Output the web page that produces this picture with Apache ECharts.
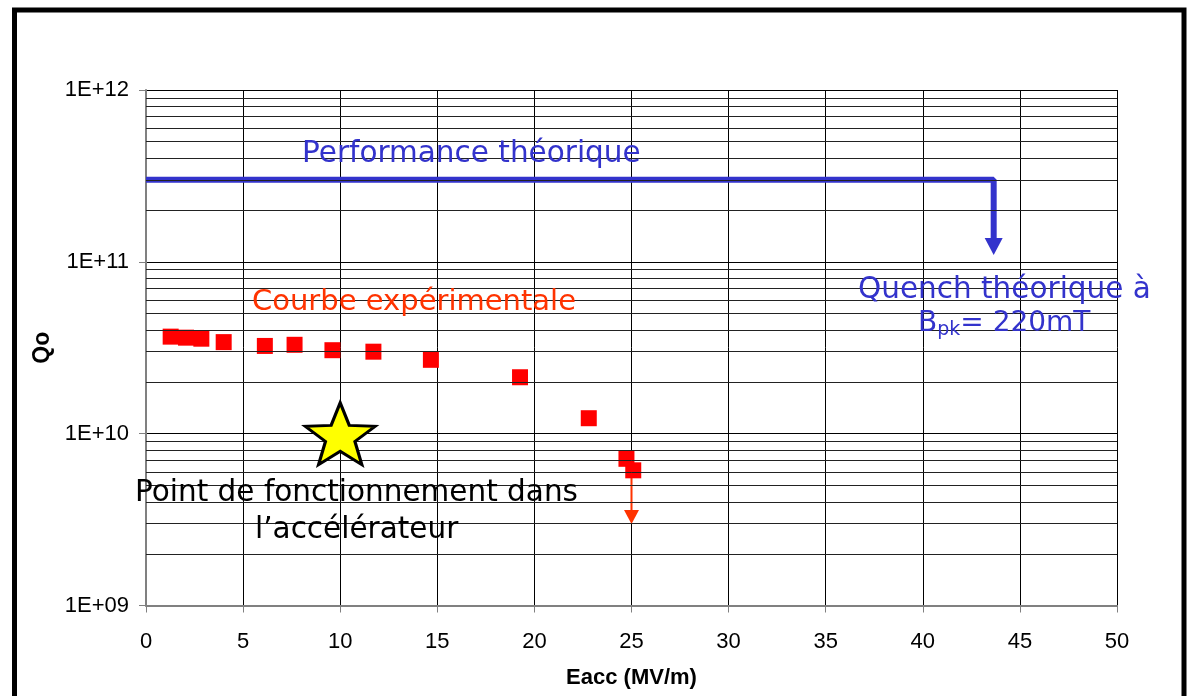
<!DOCTYPE html>
<html>
<head>
<meta charset="UTF-8">
<title>Qo vs Eacc</title>
<script src="https://cdn.jsdelivr.net/npm/echarts@6/dist/echarts.min.js"></script>
<style>
  html, body { margin: 0; padding: 0; background: #fff; }
  #main { width: 1188px; height: 696px; }
</style>
</head>
<body>
<div id="main"></div>
<script>
var eacc = [1.27, 2.06, 2.85, 4.0, 6.12, 7.65, 9.6, 11.71, 14.67, 19.26, 22.8, 24.74, 25.09];
var qo   = [3.67e10, 3.62e10, 3.57e10, 3.41e10, 3.24e10, 3.29e10, 3.06e10, 3.00e10, 2.69e10, 2.13e10, 1.23e10, 7.14e9, 6.12e9];

// performance theorique + quench
var theoX = [0, 43.65, 43.65];
var theoQ = [3e11, 3e11, 1.23e11];

// fleche sous le dernier point
var quenchX = [25, 25];
var quenchQ = [6.1e9, 3.27e9];

// point de fonctionnement
var opX = [10];
var opQ = [1e10];

// lignes de grille secondaires
var minorGrid = [2e9,3e9,4e9,5e9,6e9,7e9,8e9,9e9,
                 2e10,3e10,4e10,5e10,6e10,7e10,8e10,9e10,
                 2e11,3e11,4e11,5e11,6e11,7e11,8e11,9e11];

var starPath = 'path://M50 0 L62.3 33 L97.55 34.55 L70 56.5 L79.39 90.45 L50 71 L20.61 90.45 L30 56.5 L2.45 34.55 L37.7 33 Z';

function arrowData(xs, ys, color, size) {
  return xs.map(function (x, i) {
    var last = i === xs.length - 1;
    return {
      value: [x, ys[i]],
      symbol: last ? 'triangle' : 'none',
      symbolSize: size,
      symbolRotate: 180,
      itemStyle: { color: color }
    };
  });
}

var myChart = echarts.init(document.getElementById('main'));
var comic = 'DejaVu Sans';

var option = {
  animation: false,
  backgroundColor: '#fff',
  grid: { left: 146, right: 71, top: 90, bottom: 90.5 },
  xAxis: {
    type: 'value',
    min: 0, max: 50, interval: 5,
    name: 'Eacc (MV/m)',
    nameLocation: 'middle',
    nameGap: 61,
    nameTextStyle: { fontFamily: 'Liberation Sans', fontSize: 22, fontWeight: 'bold', color: '#000' },
    axisLine: { lineStyle: { color: '#808080', width: 2 } },
    axisTick: { show: true, length: 7, lineStyle: { color: '#808080' } },
    axisLabel: { fontFamily: 'Liberation Sans', fontSize: 22, color: '#000', margin: 25 },
    splitLine: { show: true, lineStyle: { color: '#000', width: 1 } }
  },
  yAxis: {
    type: 'log',
    logBase: 10,
    min: 1e9, max: 1e12,
    name: 'Qo',
    nameLocation: 'middle',
    nameGap: 90,
    nameRotate: 90,
    nameTextStyle: { fontFamily: 'Liberation Sans', fontSize: 23, fontWeight: 'bold', color: '#000' },
    axisLine: { show: true, lineStyle: { color: '#808080', width: 2 } },
    axisTick: { show: true, length: 7, lineStyle: { color: '#808080' } },
    axisLabel: {
      fontFamily: 'Liberation Sans', fontSize: 22, color: '#000', margin: 17,
      formatter: function (v) {
        var e = Math.round(Math.log10(v));
        return '1E+' + (e < 10 ? '0' : '') + e;
      }
    },
    splitLine: { show: true, lineStyle: { color: '#000', width: 1 } }
  },
  series: [
    {
      type: 'line',
      data: [],
      z: 1,
      silent: true,
      markLine: {
        silent: true,
        symbol: 'none',
        label: { show: false },
        lineStyle: { type: 'solid', color: '#222', width: 1 },
        data: minorGrid.map(function (v) { return { yAxis: v }; })
      }
    },
    {
      type: 'line',
      z: 3,
      data: arrowData(theoX, theoQ, '#3333CC', [18, 17]),
      lineStyle: { color: '#3333CC', width: 6 },
      itemStyle: { color: '#3333CC' },
      showSymbol: true
    },
    {
      type: 'line',
      z: 3,
      data: arrowData(quenchX, quenchQ, '#FF3300', [15, 14]),
      lineStyle: { color: '#FF3300', width: 2 },
      itemStyle: { color: '#FF3300' },
      showSymbol: true
    },
    {
      type: 'scatter',
      z: 4,
      symbol: 'rect',
      symbolSize: 16,
      itemStyle: { color: '#FF0000', opacity: 1 },
      data: eacc.map(function (x, i) { return [x, qo[i]]; })
    },
    {
      type: 'scatter',
      z: 5,
      symbol: starPath,
      symbolSize: [70, 62],
      itemStyle: { color: '#FFFF00', borderColor: '#000', borderWidth: 3, opacity: 1 },
      data: opX.map(function (x, i) { return [x, opQ[i]]; })
    }
  ],
  graphic: [
    {
      type: 'polyline', z: 100,
      shape: { points: [[14.5, 700], [14.5, 10], [1184, 10], [1184, 700]] },
      style: { stroke: '#000', lineWidth: 5, fill: null }
    },
    {
      type: 'text', left: 302, top: 139, z: 50,
      style: { text: 'Performance théorique', fill: '#3333CC', font: '29.5px "' + comic + '"' }
    },
    {
      type: 'text', left: 252, top: 288, z: 50,
      style: { text: 'Courbe expérimentale', fill: '#FF3300', font: '29px "' + comic + '"' }
    },
    {
      type: 'text', left: 858, top: 275, z: 50,
      style: { text: 'Quench théorique à', fill: '#3333CC', font: '29.5px "' + comic + '"' }
    },
    {
      type: 'text', left: 918, top: 310, z: 50,
      style: {
        text: '{n|B}{s|pk}{n|= 220mT}',
        rich: {
          n: { fill: '#3333CC', font: '28px "' + comic + '"' },
          s: { fill: '#3333CC', font: '19px "' + comic + '"', padding: [12, 0, 0, 0] }
        }
      }
    },
    {
      type: 'text', left: 135, top: 478, z: 50,
      style: { text: 'Point de fonctionnement dans', fill: '#000', font: '29.5px "' + comic + '"' }
    },
    {
      type: 'text', left: 255, top: 515, z: 50,
      style: { text: 'l’accélérateur', fill: '#000', font: '29.5px "' + comic + '"' }
    }
  ]
};
myChart.setOption(option);
</script>
</body>
</html>
